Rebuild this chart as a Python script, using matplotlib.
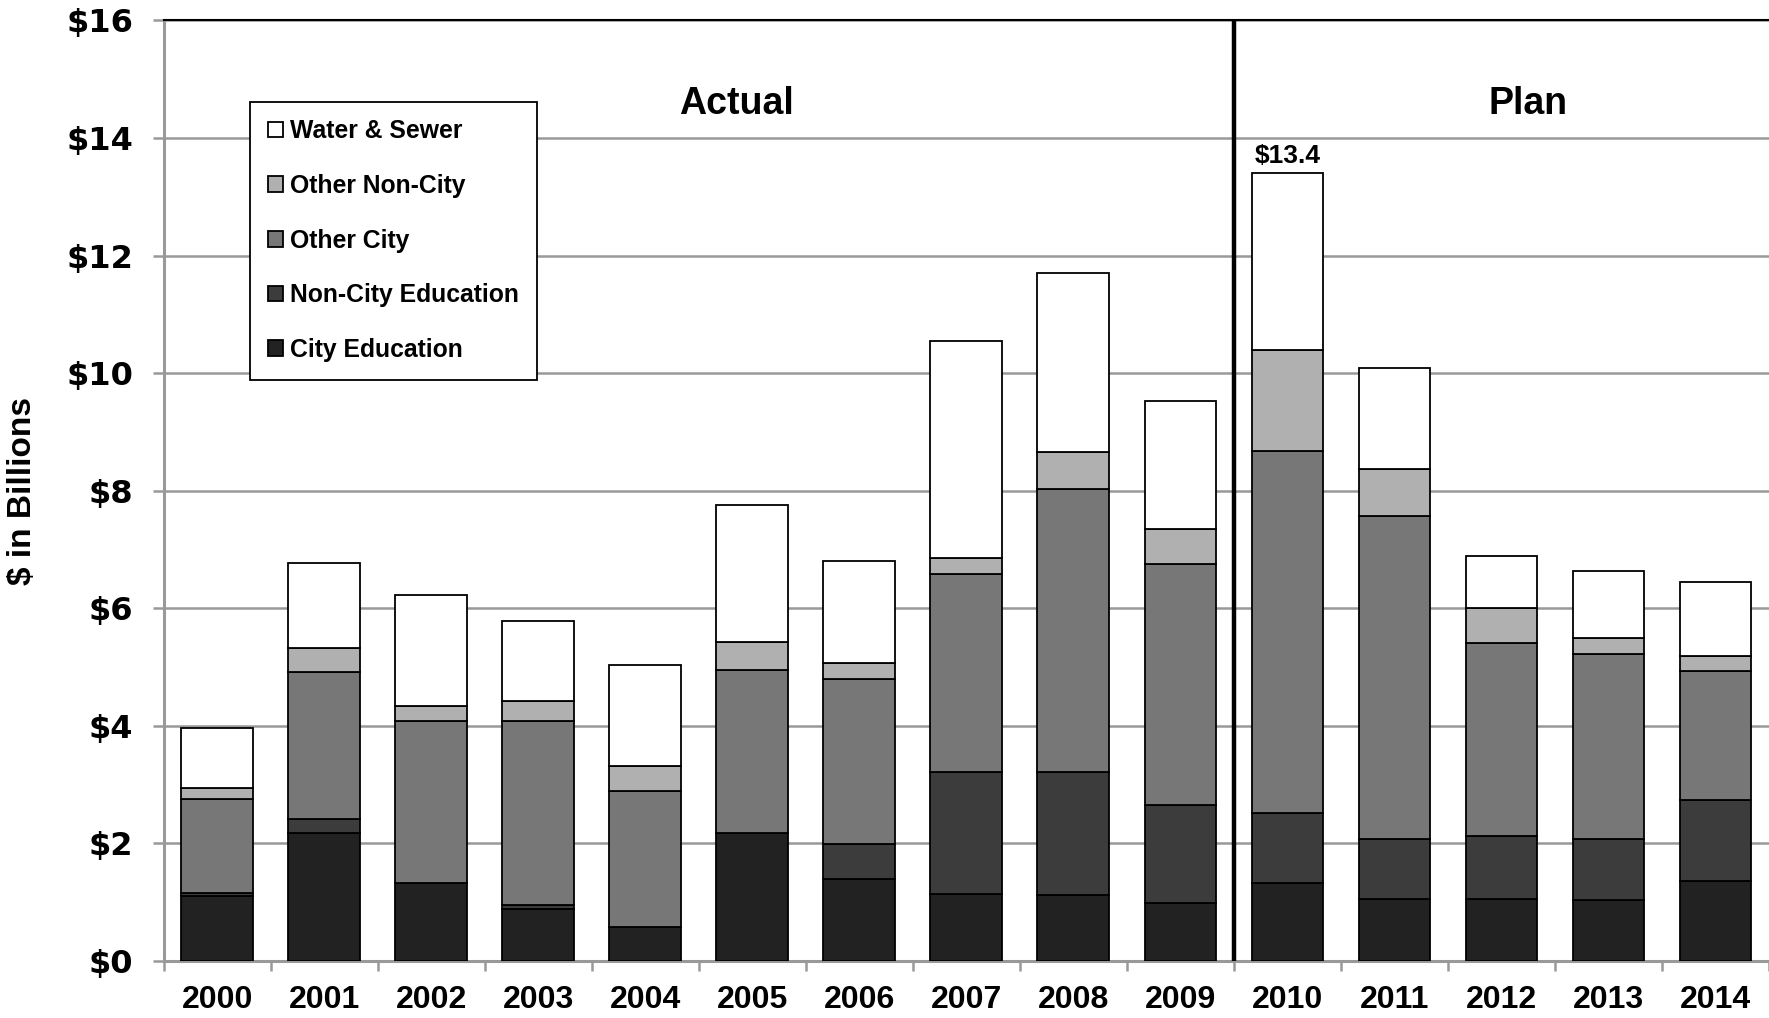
import numpy as np
import matplotlib.pyplot as plt
from matplotlib.ticker import FuncFormatter, FixedLocator

# ===== data ($ billions) =====
years = [str(y) for y in range(2000, 2015)]
city_education = [1.11, 2.17, 1.33, 0.88, 0.58, 2.18, 1.40, 1.14, 1.13, 0.99, 1.32, 1.05, 1.06, 1.04, 1.36]
noncity_education = [0.04, 0.25, 0.00, 0.07, 0.00, 0.00, 0.59, 2.08, 2.08, 1.66, 1.19, 1.02, 1.06, 1.03, 1.38]
other_city = [1.60, 2.50, 2.76, 3.14, 2.32, 2.77, 2.80, 3.37, 4.82, 4.10, 6.17, 5.50, 3.29, 3.16, 2.19]
other_noncity = [0.20, 0.41, 0.25, 0.33, 0.41, 0.47, 0.28, 0.26, 0.62, 0.60, 1.71, 0.80, 0.60, 0.27, 0.26]
water_sewer = [1.02, 1.44, 1.88, 1.37, 1.72, 2.34, 1.74, 3.69, 3.05, 2.17, 3.01, 1.72, 0.88, 1.13, 1.25]

series = [
    ("City Education", city_education, "#222222"),
    ("Non-City Education", noncity_education, "#3c3c3c"),
    ("Other City", other_city, "#777777"),
    ("Other Non-City", other_noncity, "#b0b0b0"),
    ("Water & Sewer", water_sewer, "#ffffff"),
]

# ===== plot =====
fig = plt.figure(figsize=(17.69, 10.18), dpi=100)
ax = fig.add_axes([0.0925, 0.056, 0.9075, 0.924])

x = np.arange(len(years))
bottom = np.zeros(len(years))
handles = []
for name, vals, color in series:
    vals = np.array(vals)
    b = ax.bar(x, vals, width=0.67, bottom=bottom, color=color,
               edgecolor="black", linewidth=1.3, label=name, zorder=3)
    handles.append(b)
    bottom += vals

# total label on the first plan year
idx = years.index("2010")
ax.annotate(f"${bottom[idx]:.1f}", (x[idx], bottom[idx]), xytext=(0, 4),
            textcoords="offset points", ha="center", va="bottom",
            fontsize=19, fontweight="bold", family="Liberation Sans")

# actual / plan divider
ax.axvline(9.5, color="black", linewidth=3.2, zorder=4)
ax.text(4.85, 14.58, "Actual", ha="center", va="center", fontsize=27,
        fontweight="bold", family="Liberation Sans")
ax.text(12.25, 14.58, "Plan", ha="center", va="center", fontsize=27,
        fontweight="bold", family="Liberation Sans")

ax.set_xlim(-0.5, len(years) - 0.5)
ax.set_ylim(0, 16)
ax.set_yticks(np.arange(0, 17, 2))
ax.yaxis.set_major_formatter(FuncFormatter(lambda v, p: f"${v:.0f}"))
ax.set_xticks(x)
ax.set_xticklabels(years)
ax.xaxis.set_minor_locator(FixedLocator(np.arange(-0.5, len(years), 1.0)))

ax.tick_params(axis="x", which="major", length=0, pad=17.5)
ax.tick_params(axis="x", which="minor", length=7, width=1.8, color="#999999")
ax.tick_params(axis="y", length=8, width=1.8, color="#999999", pad=14)
for lab in ax.get_xticklabels():
    lab.set_fontsize(23)
    lab.set_fontweight("bold")
    lab.set_family("Liberation Sans")
for lab in ax.get_yticklabels():
    lab.set_fontsize(23)
    lab.set_fontweight("bold")
    lab.set_family("DejaVu Sans")

ax.grid(axis="y", color="#999999", linewidth=1.8, zorder=0)
ax.set_axisbelow(True)

ax.spines["left"].set_color("#999999")
ax.spines["left"].set_linewidth(2.2)
ax.spines["bottom"].set_color("#999999")
ax.spines["bottom"].set_linewidth(2.2)
ax.spines["top"].set_color("black")
ax.spines["top"].set_linewidth(1.5)
ax.spines["right"].set_visible(False)

ax.set_ylabel("$ in Billions", fontsize=24, family="Liberation Sans",
              fontweight="bold", labelpad=20)

leg = ax.legend(handles=handles[::-1], loc="upper left",
                bbox_to_anchor=(250 / 1769, 1 - 101.5 / 1018),
                bbox_transform=fig.transFigure, borderaxespad=0,
                prop={"family": "Liberation Sans", "weight": "bold", "size": 17.8},
                handlelength=0.6, handleheight=0.6, handletextpad=0.3,
                labelspacing=1.24, borderpad=0.72, fancybox=False,
                framealpha=1, edgecolor="black")
leg.get_frame().set_linewidth(1.3)
leg.set_zorder(5)

plt.savefig("out.png", dpi=100)
